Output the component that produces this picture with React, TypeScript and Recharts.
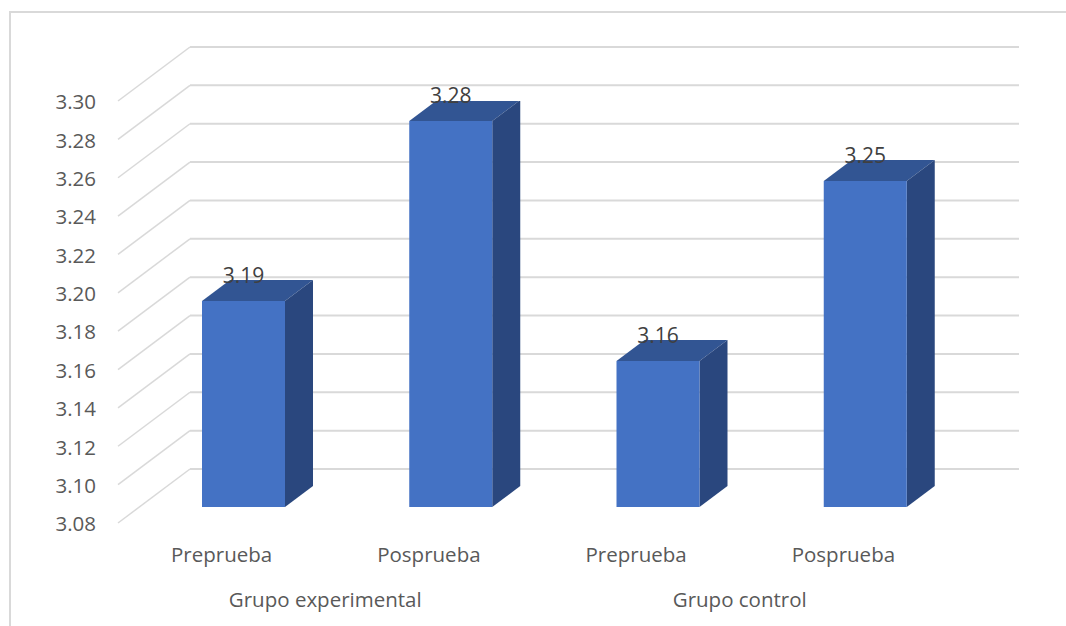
import { ComposedChart, Bar, Line, XAxis, YAxis, CartesianGrid, LabelList } from 'recharts';

const labels = ['Preprueba', 'Posprueba', 'Preprueba', 'Posprueba'];
const groups = ['Grupo experimental', 'Grupo experimental', 'Grupo control', 'Grupo control'];
const values = [3.19, 3.28, 3.16, 3.25];
const yTicks = [3.08, 3.1, 3.12, 3.14, 3.16, 3.18, 3.2, 3.22, 3.24, 3.26, 3.28, 3.3];

// the columns stand partway into the floor, so they hang off their own hidden axes
const barFloor = 3.087;
const barDomain = [3.079, 3.29];

const chartData = labels.map((label, i) => ({ label, group: groups[i], value: values[i] }));

const FONT = '"Open Sans", sans-serif';
const GRID = '#d9d9d9';
const WALL_DX = 72;
const WALL_DY = 54;
const DEPTH_X = 28;
const DEPTH_Y = 21;

// floor-to-back-wall slant followed by the line along the wall
const WallLine = (props: any) => {
  const { x1, x2, y1 } = props;
  const backY = y1 - WALL_DY;
  return (
    <g key={props.key ?? y1} fill="none" stroke={GRID}>
      <path d={`M${x1},${y1}L${x1 + WALL_DX},${backY}`} strokeWidth={1.5} />
      <path d={`M${x1 + WALL_DX},${backY}L${x2 + WALL_DX},${backY}`} strokeWidth={2} />
    </g>
  );
};

const Column = (props: any) => {
  const { x, y, width, height } = props;
  const right = x + width;
  const bottom = y + height;
  return (
    <g>
      <path
        d={`M${x},${y}L${x + DEPTH_X},${y - DEPTH_Y}L${right + DEPTH_X},${y - DEPTH_Y}L${right},${y}Z`}
        fill="#325593"
      />
      <path
        d={`M${right},${y}L${right + DEPTH_X},${y - DEPTH_Y}L${right + DEPTH_X},${bottom - DEPTH_Y}L${right},${bottom}Z`}
        fill="#2a477e"
      />
      <rect x={x} y={y} width={width} height={height} fill="#4472c4" />
    </g>
  );
};

export default function App() {
  const tickStyle = { fontFamily: FONT, fontSize: 20.5, fill: '#595959' };

  return (
    <div style={{ position: 'absolute', left: 0, top: 0, width: 1066, height: 626, overflow: 'hidden', background: '#fff' }}>
      <div
        style={{
          position: 'absolute',
          left: 9,
          top: 11,
          width: 1100,
          height: 700,
          borderLeft: `2px solid ${GRID}`,
          borderTop: `2px solid ${GRID}`,
        }}
      />
      <ComposedChart
        width={1066}
        height={626}
        data={chartData}
        margin={{ top: 101, right: 119, bottom: 0, left: 58 }}
        style={{ position: 'absolute', left: 0, top: 0 }}
      >
        <CartesianGrid yAxisId="left" vertical={false} horizontal={WallLine} />
        <XAxis
          dataKey="label"
          height={50}
          axisLine={false}
          tickLine={false}
          tickMargin={18}
          interval={0}
          tick={tickStyle}
        />
        <XAxis
          xAxisId="group"
          dataKey="group"
          allowDuplicatedCategory={false}
          height={53}
          axisLine={false}
          tickLine={false}
          tickMargin={13}
          interval={0}
          tick={tickStyle}
        />
        <XAxis xAxisId="bars" dataKey="label" hide height={0} padding={{ left: 22, right: -22 }} />
        <YAxis
          yAxisId="left"
          width={60}
          domain={[3.08, 3.3]}
          ticks={yTicks}
          interval={0}
          axisLine={false}
          tickLine={false}
          tickSize={0}
          tickMargin={22}
          tick={{ ...tickStyle, dy: 1 }}
          tickFormatter={(v: number) => v.toFixed(2)}
        />
        <YAxis yAxisId="bars" hide width={0} domain={barDomain} allowDataOverflow />
        {/* no visible stroke, it only ties the tick axis to the data */}
        <Line yAxisId="left" dataKey="value" stroke="none" dot={false} activeDot={false} isAnimationActive={false} />
        <Bar
          xAxisId="bars"
          yAxisId="bars"
          dataKey={(d: any) => [barFloor, d.value]}
          barSize={83}
          shape={Column}
          isAnimationActive={false}
        >
          <LabelList
            dataKey="value"
            position="top"
            offset={18}
            formatter={(v: number) => v.toFixed(2)}
            style={{ fontFamily: FONT, fontSize: 21, fill: '#404040' }}
          />
        </Bar>
      </ComposedChart>
    </div>
  );
}
